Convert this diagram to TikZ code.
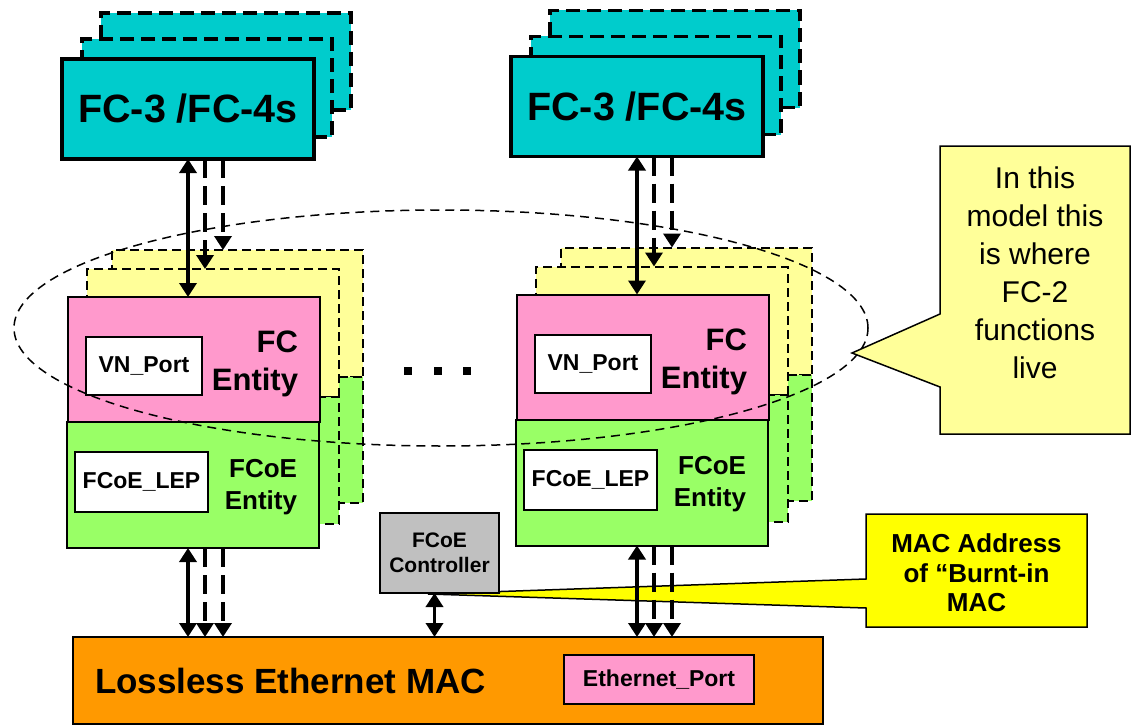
\documentclass[tikz,border=0pt]{standalone}
\usepackage{fontspec}
\setmainfont{Liberation Sans}
\usetikzlibrary{arrows.meta,shapes.geometric}

\definecolor{appcyan}{HTML}{00CCCC}
\definecolor{fcpink}{HTML}{FF99CC}
\definecolor{fcoegreen}{HTML}{99FF66}
\definecolor{paleyellow}{HTML}{FFFF99}
\definecolor{macorange}{HTML}{FF9900}
\definecolor{ctrlgray}{HTML}{C0C0C0}
\definecolor{hotyellow}{HTML}{FFFF00}

\tikzset{
  every node/.style={inner sep=0pt, outer sep=0pt},
  appbox/.style={draw, line width=3.3pt, fill=appcyan,
    font=\bfseries\fontsize{39.5}{44}\selectfont},
  appghost/.style={draw, line width=3.3pt, fill=appcyan, dash pattern=on 14pt off 7pt},
  fcghost/.style={draw, line width=2pt, fill=paleyellow, dash pattern=on 9pt off 5pt},
  fcoeghost/.style={draw, line width=2pt, fill=fcoegreen, dash pattern=on 9pt off 5pt},
  fcbox/.style={draw, line width=2pt, fill=fcpink},
  fcoebox/.style={draw, line width=2pt, fill=fcoegreen},
  portbox/.style={draw, line width=2pt, fill=white,
    font=\bfseries\fontsize{23}{27}\selectfont},
  fclabel/.style={align=right, font=\bfseries\fontsize{31}{38}\selectfont},
  fcoelabel/.style={align=right, font=\bfseries\fontsize{26}{32}\selectfont},
  tip/.style={-{Triangle[length=14pt,width=17pt]}},
  dbl/.style={{Triangle[length=14pt,width=17pt]}-{Triangle[length=14pt,width=17pt]}, line width=3.5pt},
  dsh/.style={tip, line width=3.5pt, dash pattern=on 19pt off 8pt},
  macbox/.style={draw, line width=1.5pt, fill=macorange},
  maclabel/.style={font=\bfseries\fontsize{35}{40}\selectfont},
  ethbox/.style={draw, line width=2pt, fill=fcpink,
    font=\bfseries\fontsize{23}{27}\selectfont},
  ctrlbox/.style={draw, line width=2pt, fill=ctrlgray, align=center,
    font=\bfseries\fontsize{21}{25}\selectfont},
  burnt/.style={draw, line width=1.5pt, fill=hotyellow, line join=miter},
  burnttext/.style={align=center, font=\bfseries\fontsize{26}{29.5}\selectfont},
  zone/.style={ellipse, draw, line width=1.5pt, dash pattern=on 9pt off 6pt},
  fc2call/.style={draw, line width=1.5pt, fill=paleyellow},
  notetext/.style={align=center, font=\fontsize{30}{38}\selectfont},
  dotmark/.style={fill=black, minimum size=8pt},
}

% One FC-3/FC-4 stack with its FC and FCoE entities; #1 prefixes node names
\newcommand{\entitystack}[1]{%
  \node[appghost, minimum width=250pt, minimum height=97pt] (#1g2) at (226,61.5) {};
  \node[appghost, minimum width=250pt, minimum height=98pt] (#1g1) at (207,88) {};
  \node[appbox, minimum width=252pt, minimum height=100pt] (#1app) at (188,109) {FC-3 /FC-4s};
  \node[fcghost, minimum width=251pt, minimum height=127pt] (#1fcb) at (237.5,313.5) {};
  \node[fcoeghost, minimum width=251pt, minimum height=126pt] (#1eb) at (237.5,440) {};
  \node[fcghost, minimum width=252pt, minimum height=128pt] (#1fcm) at (213,333) {};
  \node[fcoeghost, minimum width=252pt, minimum height=127pt] (#1em) at (213,460.5) {};
  \node[fcbox, minimum width=252pt, minimum height=125pt] (#1fc) at (194,359.5) {};
  \node[fcoebox, minimum width=252pt, minimum height=126pt] (#1fcoe) at (193,485) {};
  \node[portbox, minimum width=116pt, minimum height=58pt] (#1vn) at (144,366) {VN\_Port};
  \node[fclabel, anchor=east] (#1fcl) at (298,364) {FC\\Entity};
  \node[portbox, minimum width=133pt, minimum height=60pt] (#1lep) at (141.5,482) {FCoE\_LEP};
  \node[fcoelabel, anchor=east] (#1el) at (297,487) {FCoE\\Entity};
  \coordinate (#1a0) at (#1app.south);
  \coordinate (#1a1) at ([xshift=17pt]#1app.south);
  \coordinate (#1a2) at ([xshift=35pt]#1app.south);
  \draw[dbl] (#1a0) -- (#1a0 |- #1fc.north);
  \draw[dsh] (#1a1) -- (#1a1 |- #1fcm.north);
  \draw[dsh] (#1a2) -- (#1a2 |- #1fcb.north);
  \draw[dbl] (#1a0 |- #1fcoe.south) -- (#1a0 |- mac.north);
  \draw[dsh] (#1a1 |- #1fcoe.south) -- (#1a1 |- mac.north);
  \draw[dsh] (#1a2 |- #1fcoe.south) -- (#1a2 |- mac.north);
}

\begin{document}
\begin{tikzpicture}[x=1pt,y=-1pt]
\useasboundingbox (0,0) rectangle (1132,725);

% Lossless Ethernet MAC
\node[macbox, minimum width=750pt, minimum height=87pt] (mac) at (448,680.5) {};
\node[maclabel, anchor=base west] (maclbl) at (95,693) {Lossless Ethernet MAC};
\node[ethbox, minimum width=190pt, minimum height=49pt] (ethport) at (659,679.5) {Ethernet\_Port};

% burnt-in MAC callout
\path[burnt] (866,514) -- (1087,514) -- (1087,627) -- (866,627) -- (866,608)
  -- (428,594) -- (866,579) -- cycle;
\node[burnttext] (burntnote) at (976.5,573) {MAC Address\\of “Burnt-in\\MAC};

% FCoE controller
\node[ctrlbox, minimum width=119pt, minimum height=80pt] (ctrl) at (439.5,553) {FCoE\\Controller};
\coordinate (ctrlport) at ([xshift=-5pt]ctrl.south);
\draw[dbl] (ctrlport) -- (ctrlport |- mac.north);

% the two entity stacks
\entitystack{L}
\begin{scope}[shift={(449,-2.5)}]
  \entitystack{R}
\end{scope}

% ellipsis between the stacks
\node[dotmark] (dot1) at (408,371) {};
\node[dotmark] (dot2) at (438,371) {};
\node[dotmark] (dot3) at (467,371) {};

% FC-2 region
\node[zone, minimum width=854pt, minimum height=236pt] (fc2zone) at (441,328) {};
\coordinate (fc2tip) at (852,353);
\path[fc2call] (940,146) -- (1130,146) -- (1130,434) -- (940,434) -- (940,387)
  -- (fc2tip) -- (940,314) -- cycle;
\node[notetext] (fc2note) at (1035,273) {In this\\model this\\is where\\FC-2\\functions\\live};
\end{tikzpicture}
\end{document}
